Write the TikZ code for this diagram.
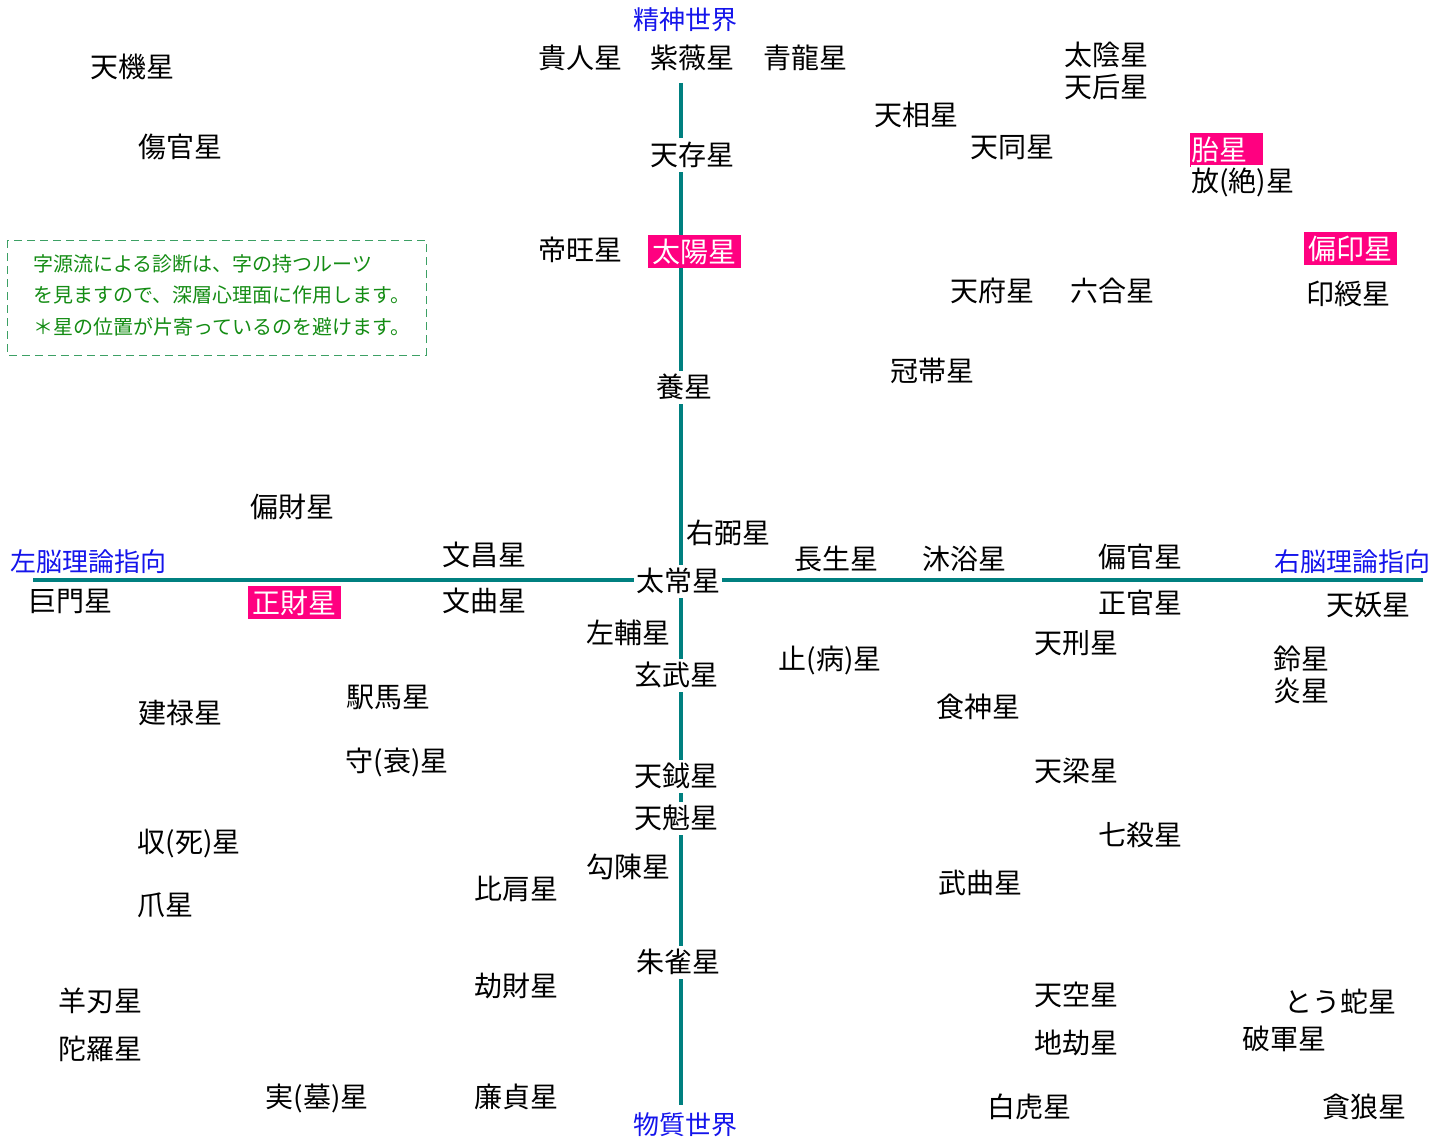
\documentclass[tikz,border=0pt]{standalone}
\usepackage{fontspec}
\setmainfont{Noto Sans CJK JP}
\usepackage{xcolor}
\definecolor{sarcelle}{RGB}{0,128,128}
\definecolor{rose}{RGB}{255,0,128}
\definecolor{bleu}{RGB}{20,20,235}
\definecolor{vert}{RGB}{20,140,20}
\definecolor{vertcadre}{RGB}{60,160,100}

\begin{document}
\begin{tikzpicture}[x=1pt, y=-1pt,
  etoile/.style={fill=white, inner xsep=2pt, inner ysep=2.5pt,
    font=\fontsize{28}{32}\selectfont, text height=24.6pt, text depth=3.4pt},
  marque/.style={etoile, fill=rose, text=white, inner xsep=4.5pt},
  monde/.style={text=bleu, inner sep=0pt, font=\fontsize{26}{30}\selectfont},
  axe/.style={draw=sarcelle, line width=3.5pt},
  cadre/.style={draw=vertcadre, line width=1pt, dash pattern=on 8pt off 5pt},
  note/.style={text=vert, inner sep=0pt, align=left, font=\fontsize{20}{31.5}\selectfont}]

\useasboundingbox (0,0) rectangle (1445,1137);

% Axes
\coordinate (haut) at (681,83);
\coordinate (bas) at (681,1105);
\coordinate (gauche) at (33,580);
\coordinate (droite) at (1423,580);
\draw[axe] (haut) -- (bas);
\draw[axe] (gauche) -- (droite);

% Titres des axes
\node[monde] (esprit) at (685,20) {精神世界};
\node[monde] (matiere) at (685,1125) {物質世界};
\node[monde] (gaucheCerveau) at (88,562) {左脳理論指向};
\node[monde] (droitCerveau) at (1352,562) {右脳理論指向};

% Cadre de note
\draw[cadre] (7,240) rectangle (426,355);
\node[note, anchor=west] (texteNote) at (33,295) {字源流による診断は、字の持つルーツ\\を見ますので、深層心理面に作用します。\\＊星の位置が片寄っているのを避けます。};

% Etoiles en haut
\node[etoile] (tenki) at (132,67) {天機星};
\node[etoile] (kijin) at (580,58) {貴人星};
\node[etoile] (shibi) at (692,58) {紫薇星};
\node[etoile] (seiryu) at (805,58) {青龍星};
\node[etoile] (taiin) at (1106,55) {太陰星};
\node[etoile] (tengo) at (1106,87) {天后星};
\node[etoile] (tenso) at (916,115) {天相星};
\node[etoile] (shokan) at (180,147) {傷官星};
\node[etoile] (tenzon) at (692,155) {天存星};
\node[etoile] (tendo) at (1012,147) {天同星};
\node[marque, anchor=west, inner xsep=1pt] (tai) at (1190,150) {胎星\kern15pt};
\node[etoile, anchor=west, inner xsep=0pt] (zetsu) at (1191,181) {放(絶)星};
\node[etoile] (teio) at (580,250) {帝旺星};
\node[marque] (taiyo) at (694.5,251.5) {太陽星};
\node[marque] (henin) at (1350.5,248.5) {偏印星};
\node[etoile] (tenpu) at (992,291) {天府星};
\node[etoile] (rikugo) at (1112,291) {六合星};
\node[etoile] (injyu) at (1348,294) {印綬星};
\node[etoile] (kantai) at (932,371) {冠帯星};
\node[etoile] (yo) at (684,387) {養星};

% Etoiles au milieu
\node[etoile] (henzai) at (292,507) {偏財星};
\node[etoile] (uhitsu) at (728,533) {右弼星};
\node[etoile] (bunsho) at (484,555) {文昌星};
\node[etoile] (chosei) at (836,559) {長生星};
\node[etoile] (mokuyoku) at (964,559) {沐浴星};
\node[etoile] (henkan) at (1140,557) {偏官星};
\node[etoile] (komon) at (70,601) {巨門星};
\node[marque] (seizai) at (294.5,602.5) {正財星};
\node[etoile] (bunkyoku) at (484,601) {文曲星};
\node[etoile] (taijo) at (678,581) {太常星};
\node[etoile] (seikan) at (1140,603) {正官星};
\node[etoile] (tenyo) at (1368,605) {天妖星};
\node[etoile] (saho) at (628,633) {左輔星};
\node[etoile] (tenkei) at (1076,643) {天刑星};
\node[etoile] (byo) at (830,659) {止(病)星};
\node[etoile] (rei) at (1301,659) {鈴星};
\node[etoile] (en) at (1301,691) {炎星};
\node[etoile] (genbu) at (676,675) {玄武星};

% Etoiles en bas
\node[etoile] (ekiba) at (388,697) {駅馬星};
\node[etoile] (kenroku) at (180,713) {建禄星};
\node[etoile] (shokujin) at (978,707) {食神星};
\node[etoile] (sui) at (397,761) {守(衰)星};
\node[etoile] (tenetsu) at (676,776) {天鉞星};
\node[etoile] (tenryo) at (1076,771) {天梁星};
\node[etoile] (tenkai) at (676,818) {天魁星};
\node[etoile] (shichisatsu) at (1140,835) {七殺星};
\node[etoile] (shi) at (189,842) {収(死)星};
\node[etoile] (kochin) at (628,867) {勾陳星};
\node[etoile] (hiken) at (516,889) {比肩星};
\node[etoile] (bukyoku) at (980,883) {武曲星};
\node[etoile] (so) at (165,905) {爪星};
\node[etoile] (suzaku) at (678,962) {朱雀星};
\node[etoile] (gozai) at (516,986) {劫財星};
\node[etoile] (tenku) at (1076,995) {天空星};
\node[etoile] (toda) at (1340,1002) {とう蛇星};
\node[etoile] (yojin) at (100,1001) {羊刃星};
\node[etoile] (dara) at (100,1049) {陀羅星};
\node[etoile] (chigo) at (1076,1043) {地劫星};
\node[etoile] (hagun) at (1284,1039) {破軍星};
\node[etoile] (bo) at (317,1097) {実(墓)星};
\node[etoile] (rentei) at (516,1097) {廉貞星};
\node[etoile] (byakko) at (1029,1107) {白虎星};
\node[etoile] (donro) at (1364,1107) {貪狼星};

\end{tikzpicture}
\end{document}
